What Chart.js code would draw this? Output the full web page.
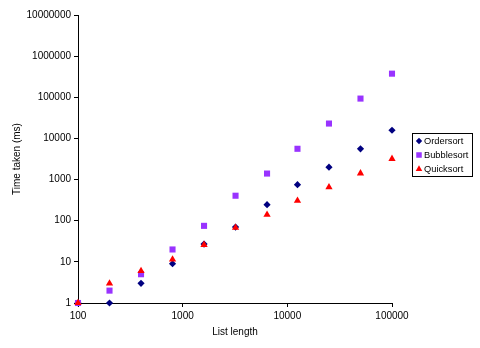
<!DOCTYPE html>
<html>
<head>
<meta charset="utf-8">
<script src="https://cdn.jsdelivr.net/npm/chart.js@4"></script>
<style>
  html, body { margin: 0; padding: 0; background: #fff; }
  #wrap { width: 480px; height: 348px; }
</style>
</head>
<body>
<div id="wrap"><canvas id="myChart" width="480" height="348"></canvas></div>
<script>
const listLength = [100, 200, 400, 800, 1600, 3200, 6400, 12500, 25000, 50000, 100000];
const ordersort = [1, 1, 3, 9, 27, 70, 245, 750, 2000, 5600, 15800];
const bubblesort = [1, 2, 5, 20, 75, 405, 1400, 5600, 23000, 93000, 375000];
const quicksort = [1, 3, 6, 11.5, 26, 68, 140, 307, 650, 1420, 3200];
const xTicks = [100, 1000, 10000, 100000];
const yTicks = [1, 10, 100, 1000, 10000, 100000, 1000000, 10000000];

function points(values) {
    return values.map((v, i) => ({ x: listLength[i], y: v }));
}

const fontFam = '"Liberation Sans", Arial, sans-serif';

const datasets = [
    { label: 'Ordersort', data: points(ordersort), pointStyle: 'rectRot', pointRadius: 3.6,
      backgroundColor: '#000080', borderColor: '#000080', order: 2 },
    { label: 'Bubblesort', data: points(bubblesort), pointStyle: 'rect', pointRadius: 4.3,
      backgroundColor: '#9933ff', borderColor: '#9933ff', order: 1 },
    { label: 'Quicksort', data: points(quicksort), pointStyle: 'triangle', pointRadius: 4.2,
      backgroundColor: '#ff0000', borderColor: '#ff0000', order: 0 }
];
datasets.forEach(d => { d.borderWidth = 0; d.clip = false; d.pointHoverRadius = d.pointRadius; });

// legend with a border box, drawn on the canvas
const boxLegend = {
    id: 'boxLegend',
    afterDraw(chart) {
        const ctx = chart.ctx;
        const x0 = 412, y0 = 133, w = 60, h = 43;
        ctx.save();
        ctx.fillStyle = '#fff';
        ctx.fillRect(x0, y0, w, h);
        ctx.strokeStyle = '#000';
        ctx.lineWidth = 1;
        ctx.strokeRect(x0 + 0.5, y0 + 0.5, w, h);
        ctx.font = '9.3px ' + fontFam;
        ctx.textBaseline = 'middle';
        datasets.forEach((d, i) => {
            const y = y0 + 8 + i * 14;
            ctx.fillStyle = d.backgroundColor;
            ctx.strokeStyle = d.borderColor;
            Chart.helpers.drawPoint(ctx, { pointStyle: d.pointStyle, radius: d.pointRadius - 0.4, rotation: 0, borderWidth: 0 }, x0 + 7, y);
            ctx.fillStyle = '#000';
            ctx.fillText(d.label, x0 + 12, y + 0.5, 46);
        });
        ctx.restore();
    }
};

const config = {
    type: 'scatter',
    data: { datasets: datasets },
    options: {
        responsive: false,
        animation: false,
        events: [],
        layout: { padding: { top: 15, right: 88, bottom: 0, left: 0 } },
        plugins: { legend: { display: false }, tooltip: { enabled: false } },
        scales: {
            x: {
                type: 'logarithmic', position: 'bottom', min: 100, max: 100000,
                afterBuildTicks: s => { s.ticks = xTicks.map(v => ({ value: v })); },
                afterFit: s => { s.height = 45; },
                ticks: { callback: v => String(v), color: '#000', font: { family: fontFam, size: 10 }, maxRotation: 0, padding: 3 },
                grid: { drawOnChartArea: false, tickLength: 4, color: '#000' },
                border: { color: '#000', width: 1 },
                title: { display: true, text: 'List length', color: '#000', font: { family: fontFam, size: 10 }, padding: { top: 0, bottom: 10 } }
            },
            y: {
                type: 'logarithmic', position: 'left', min: 1, max: 10000000,
                afterBuildTicks: s => { s.ticks = yTicks.map(v => ({ value: v })); },
                afterFit: s => { s.width = 78; },
                ticks: { callback: v => String(v), color: '#000', font: { family: fontFam, size: 10 }, padding: 3 },
                grid: { drawOnChartArea: false, tickLength: 4, color: '#000' },
                border: { color: '#000', width: 1 },
                title: { display: true, text: 'Time taken (ms)', color: '#000', font: { family: fontFam, size: 10 }, padding: { top: 11, bottom: 0 } }
            }
        }
    },
    plugins: [boxLegend]
};

const myChart = new Chart(document.getElementById('myChart'), config);
</script>
</body>
</html>
